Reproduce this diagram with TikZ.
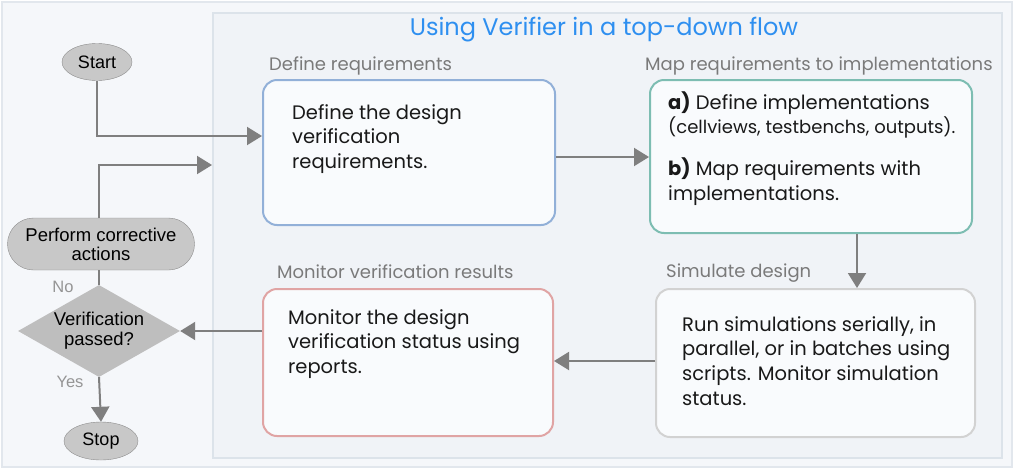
\documentclass[tikz,border=0pt]{standalone}
\usepackage{fontspec}
\setmainfont{Poppins}
\newfontfamily\arialfont{Liberation Sans}
\usetikzlibrary{arrows.meta,shapes.geometric}
\definecolor{linegray}{HTML}{7F7F7F}
\definecolor{termgray}{HTML}{C8C8C8}
\definecolor{termedge}{HTML}{8C8C8C}
\definecolor{labelgray}{HTML}{7A7A7A}
\definecolor{titleblue}{HTML}{2E8FF0}
\definecolor{pagebg}{HTML}{F5F7FA}
\definecolor{pageedge}{HTML}{E2E7ED}
\definecolor{panelbg}{HTML}{F0F3F7}
\definecolor{paneledge}{HTML}{DCE3EA}
\definecolor{boxfill}{HTML}{F9FBFD}
\definecolor{reqblue}{HTML}{92B0D8}
\definecolor{mapteal}{HTML}{7DBDB2}
\definecolor{simgray}{HTML}{D2D2D2}
\definecolor{monpink}{HTML}{E0A4A4}
\begin{document}
\begin{tikzpicture}[x=1pt, y=-1pt,
  flow/.style={draw=linegray, line width=2pt, -{Triangle[length=15pt,width=18pt]}},
  stepbox/.style={rounded corners=14pt, line width=2pt, fill=boxfill, inner sep=0pt},
  steptext/.style={anchor=north west, inner sep=0pt, align=left, text=black!90,
    font=\fontsize{19.5}{24.8}\selectfont},
  caption/.style={anchor=west, inner sep=0pt, text=labelgray, font=\fontsize{18}{20}\selectfont},
  term/.style={ellipse, draw=termedge, fill=termgray, inner sep=0pt,
    font=\arialfont\fontsize{18}{20}\selectfont},
  answer/.style={text=labelgray!80, font=\arialfont\fontsize{16.5}{18}\selectfont}]
  % page and panel
  \useasboundingbox (0,0) rectangle (1014,469);
  \draw [fill=pagebg, draw=pageedge, line width=2pt] (2,2) rectangle (1012,467);
  \draw [fill=panelbg, draw=paneledge, line width=2pt] (213,13) rectangle (1002,458);
  \node (title) at (604,30) [text=titleblue, font=\fontsize{24}{28}\selectfont] {Using Verifier in a top-down flow};

  % left side flow
  \node (start) at (97,62) [term, minimum width=70pt, minimum height=37pt] {Start};
  \node (perform) at (101,244) [term, rectangle, rounded corners=26pt, minimum width=187pt,
    minimum height=52pt, align=center, font=\arialfont\fontsize{18.5}{19}\selectfont] {Perform corrective\\actions};
  \node (decision) at (99,331) [diamond, fill=termgray!95!black, inner sep=0pt, minimum width=162pt,
    minimum height=92pt] {};
  \node at (99,331) [align=center, font=\arialfont\fontsize{18.5}{20}\selectfont] {Verification\\passed?};
  \node (stop) at (101,441) [term, minimum width=74pt, minimum height=38pt] {Stop};
  \node (no) at (63,287) [answer] {No};
  \node (yes) at (70,382) [answer] {Yes};
  \coordinate (loopend) at (212,165);

  % step boxes
  \node (box1) at (409,152.5) [stepbox, draw=reqblue, minimum width=292pt, minimum height=145pt] {};
  \node (box2) at (811,156.5) [stepbox, draw=mapteal, minimum width=322pt, minimum height=153pt] {};
  \node (box3) at (815.5,363) [stepbox, draw=simgray, minimum width=319pt, minimum height=148pt] {};
  \node (box4) at (408,362.5) [stepbox, draw=monpink, minimum width=290pt, minimum height=147pt] {};

  \node (cap1) at (269,66) [caption] {Define requirements};
  \node (cap2) at (645,66) [caption] {Map requirements to implementations};
  \node (cap3) at (666,273) [caption] {Simulate design};
  \node (cap4) at (277,272) [caption] {Monitor verification results};

  \node (txt1) at (292,104) [steptext] {Define the design\\verification\\requirements.};
  \node (txt2) at (668,91) [steptext] {\textbf{a)} Define implementations\\
    {\fontsize{18}{24.8}\selectfont (cellviews, testbenchs, outputs).}\\[17pt]
    \textbf{b)} Map requirements with\\implementations.};
  \node (txt3) at (682,316) [steptext] {Run simulations serially, in\\parallel, or in batches using\\scripts. Monitor simulation\\status.};
  \node (txt4) at (288,309) [steptext] {Monitor the design\\verification status using\\reports.};

  % connectors
  \draw [flow] (start.south) |- (box1.west |- 0,136);
  \draw [flow] (perform.north -| 99,0) |- (loopend);
  \draw [flow] (box1.east |- 0,157) -- (box2.west |- 0,157);
  \draw [flow] (box2.south -| 857,0) -- (box3.north -| 857,0);
  \draw [flow] (box3.west |- 0,361) -- (box4.east |- 0,361);
  \draw [flow] (box4.west |- decision.east) -- (decision.east);
  \draw [draw=linegray, line width=2pt] (perform.south -| decision.north) -- (decision.north);
  \draw [flow] (decision.south) -- (stop.north);
\end{tikzpicture}
\end{document}
